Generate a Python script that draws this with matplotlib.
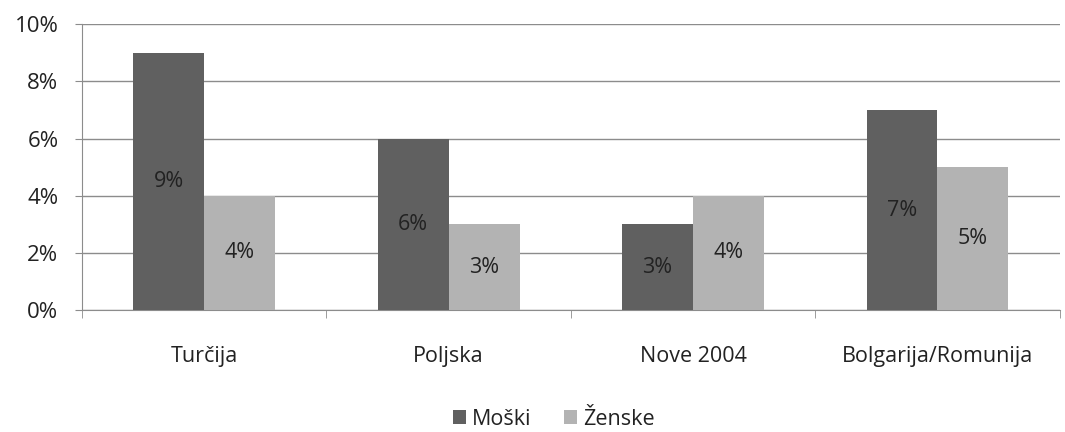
import matplotlib.pyplot as plt
import numpy as np

plt.rcParams['font.family'] = ['Open Sans', 'DejaVu Sans']

categories = ['Turčija', 'Poljska', 'Nove 2004', 'Bolgarija/Romunija']
moski = [9, 6, 3, 7]
zenske = [4, 3, 4, 5]

fig = plt.figure(figsize=(10.65, 4.32), dpi=100)
ax = fig.add_axes([0.077, 0.282, 0.918, 0.662])

x = np.arange(len(categories))
w = 0.29
b1 = ax.bar(x - w / 2, moski, w, color='#606060', label='Moški', zorder=3)
b2 = ax.bar(x + w / 2, zenske, w, color='#b3b3b3', label='Ženske', zorder=3)

for bars, vals in ((b1, moski), (b2, zenske)):
    for r, v in zip(bars, vals):
        ax.text(r.get_x() + r.get_width() / 2, v / 2, f'{v}%', ha='center', va='center',
                fontsize=15.5, color='#222222', zorder=4)

ax.set_xlim(-0.5, len(categories) - 0.5)
ax.set_ylim(0, 10)
ax.set_yticks(range(0, 11, 2))
ax.set_yticklabels([f'{t}%' for t in range(0, 11, 2)], fontsize=16, color='#222222')
ax.yaxis.grid(True, color='#8c8c8c', linewidth=1)
ax.set_axisbelow(True)

ax.set_xticks(x)
ax.set_xticklabels(categories, fontsize=15.5, color='#222222')
ax.set_xticks(np.arange(-0.5, len(categories)), minor=True)
ax.tick_params(axis='x', which='major', length=0, pad=26)
ax.tick_params(axis='x', which='minor', length=6, color='#8c8c8c')
ax.tick_params(axis='y', length=5, color='#8c8c8c', pad=12)

for s in ['top', 'right']:
    ax.spines[s].set_visible(False)
ax.spines['left'].set_color('#8c8c8c')
ax.spines['bottom'].set_color('#8c8c8c')

fig.legend(handles=[b1, b2], loc='lower center', bbox_to_anchor=(0.52, -0.04), ncol=2,
           frameon=False, fontsize=15.5, handlelength=0.6, handleheight=0.6,
           handletextpad=0.3, columnspacing=1.5)
for t in fig.legends[0].get_texts():
    t.set_color('#222222')

fig.savefig('out.png', dpi=100)
